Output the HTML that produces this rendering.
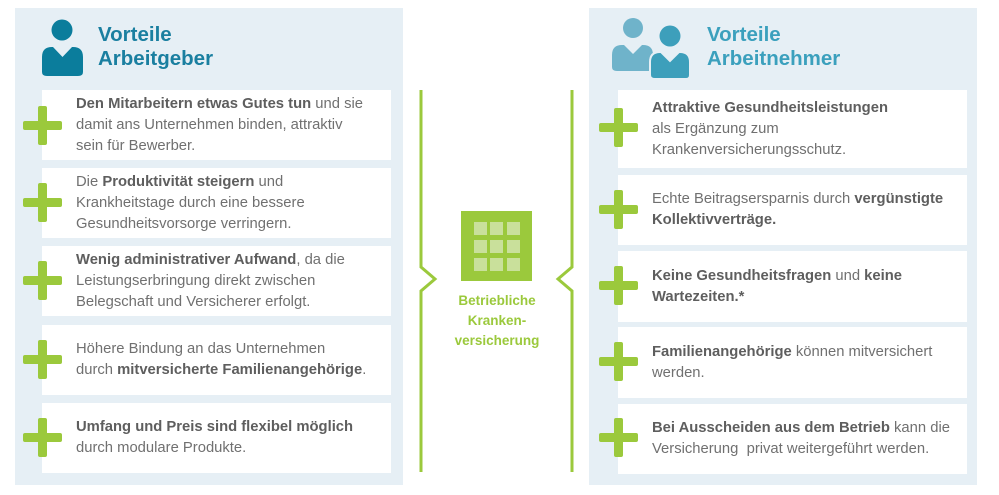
<!DOCTYPE html>
<html><head><meta charset="utf-8"><style>
*{margin:0;padding:0;box-sizing:border-box}
body{width:999px;height:495px;background:#fff;position:relative;overflow:hidden;font-family:"Liberation Sans",sans-serif}
.panel{position:absolute;top:8px;width:388px;height:477px;background:#e6eff5}
.card{position:absolute;background:#fff;width:349px;height:70px}
.txt{position:absolute;left:34px;right:0;top:0;bottom:0;display:flex;align-items:center;font-size:14.8px;line-height:21px;color:#707070;white-space:nowrap}
.txt b{color:#5e5e5e}
.plus{position:absolute;width:39px;height:39px}
.plus:before{content:"";position:absolute;left:0;top:15px;width:39px;height:9px;background:#9bc93c;border-radius:2px}
.plus:after{content:"";position:absolute;left:15px;top:0;width:9px;height:39px;background:#9bc93c;border-radius:2px}
.title{position:absolute;font-size:20.5px;font-weight:bold;line-height:24px}
</style></head><body>
<div class="panel" style="left:15px"></div>
<div class="panel" style="left:589px"></div>

<svg style="position:absolute;left:0;top:0" width="999" height="495">
<circle cx="62" cy="30" r="10.5" fill="#0b7d9c"/>
<path d="M52 47 Q42 47 42 57 L42 72 Q42 76 47 76 L78 76 Q83 76 83 72 L83 57 Q83 47 73 47 L72 47 L62.5 57 L53 47 Z" fill="#0b7d9c"/>
<circle cx="633" cy="28" r="10" fill="#6fb3ca"/>
<path d="M622 45 Q612 45 612 55 L612 67 Q612 71 617 71 L649 71 Q653 71 653 67 L653 55 Q653 45 643 45 L642 45 L633 54 L624 45 Z" fill="#6fb3ca"/>
<circle cx="670" cy="36" r="10.5" fill="#3d9fbb"/>
<path d="M660 52 Q650 52 650 62 L650 75 Q650 79 655 79 L686 79 Q690 79 690 75 L690 62 Q690 52 680 52 L679 52 L670 61 L661 52 Z" fill="#3d9fbb" stroke="#e6eff5" stroke-width="2"/>
<polyline points="421,90 421,267 435,279 421,291 421,472" fill="none" stroke="#9bc93c" stroke-width="3"/>
<polyline points="572,90 572,267 558,279 572,291 572,472" fill="none" stroke="#9bc93c" stroke-width="3"/>
<rect x="461" y="211" width="71" height="70" fill="#9bc93c"/>
<g fill="#c9e09b">
<rect x="474" y="222" width="13" height="13"/><rect x="490" y="222" width="13" height="13"/><rect x="507" y="222" width="13" height="13"/>
<rect x="474" y="240" width="13" height="13"/><rect x="490" y="240" width="13" height="13"/><rect x="507" y="240" width="13" height="13"/>
<rect x="474" y="258" width="13" height="13"/><rect x="490" y="258" width="13" height="13"/><rect x="507" y="258" width="13" height="13"/>
</g>
</svg>
<div style="position:absolute;left:447px;top:291px;width:100px;text-align:center;color:#9bc93c;font-weight:bold;font-size:13.5px;line-height:20px">Betriebliche<br>Kranken-<br>versicherung</div>

<div class="title" style="left:98px;top:23px;color:#1a7fa0">Vorteile<br>Arbeitgeber</div>
<div class="title" style="left:707px;top:23px;color:#3ba0bd">Vorteile<br>Arbeitnehmer</div>

<div class="card" style="left:42px;top:90px"><div class="txt"><div><b>Den Mitarbeitern etwas Gutes tun</b> und sie<br>damit ans Unternehmen binden, attraktiv<br>sein für Bewerber.</div></div></div>
<div class="card" style="left:42px;top:168px"><div class="txt"><div>Die <b>Produktivität steigern</b> und<br>Krankheitstage durch eine bessere<br>Gesundheitsvorsorge verringern.</div></div></div>
<div class="card" style="left:42px;top:246px"><div class="txt"><div><b>Wenig administrativer Aufwand</b>, da die<br>Leistungserbringung direkt zwischen<br>Belegschaft und Versicherer erfolgt.</div></div></div>
<div class="card" style="left:42px;top:325px"><div class="txt"><div>Höhere Bindung an das Unternehmen<br>durch <b>mitversicherte Familienangehörige</b>.</div></div></div>
<div class="card" style="left:42px;top:403px"><div class="txt"><div><b>Umfang und Preis sind flexibel möglich</b><br>durch modulare Produkte.</div></div></div>
<div class="plus" style="left:23px;top:106px"></div>
<div class="plus" style="left:23px;top:183px"></div>
<div class="plus" style="left:23px;top:261px"></div>
<div class="plus" style="left:23px;top:340px"></div>
<div class="plus" style="left:23px;top:418px"></div>

<div class="card" style="left:618px;top:90px;height:78px"><div class="txt"><div><b>Attraktive Gesundheitsleistungen</b><br>als Ergänzung zum<br>Krankenversicherungsschutz.</div></div></div>
<div class="card" style="left:618px;top:175px"><div class="txt"><div>Echte Beitragsersparnis durch <b>vergünstigte</b><br><b>Kollektivverträge.</b></div></div></div>
<div class="card" style="left:618px;top:251px;height:71px"><div class="txt"><div><b>Keine Gesundheitsfragen</b> und <b>keine</b><br><b>Wartezeiten.*</b></div></div></div>
<div class="card" style="left:618px;top:327px;height:71px"><div class="txt"><div><b>Familienangehörige</b> können mitversichert<br>werden.</div></div></div>
<div class="card" style="left:618px;top:404px"><div class="txt"><div><b>Bei Ausscheiden aus dem Betrieb</b> kann die<br>Versicherung&nbsp; privat weitergeführt werden.</div></div></div>
<div class="plus" style="left:599px;top:108px"></div>
<div class="plus" style="left:599px;top:190px"></div>
<div class="plus" style="left:599px;top:266px"></div>
<div class="plus" style="left:599px;top:342px"></div>
<div class="plus" style="left:599px;top:418px"></div>
</body></html>
